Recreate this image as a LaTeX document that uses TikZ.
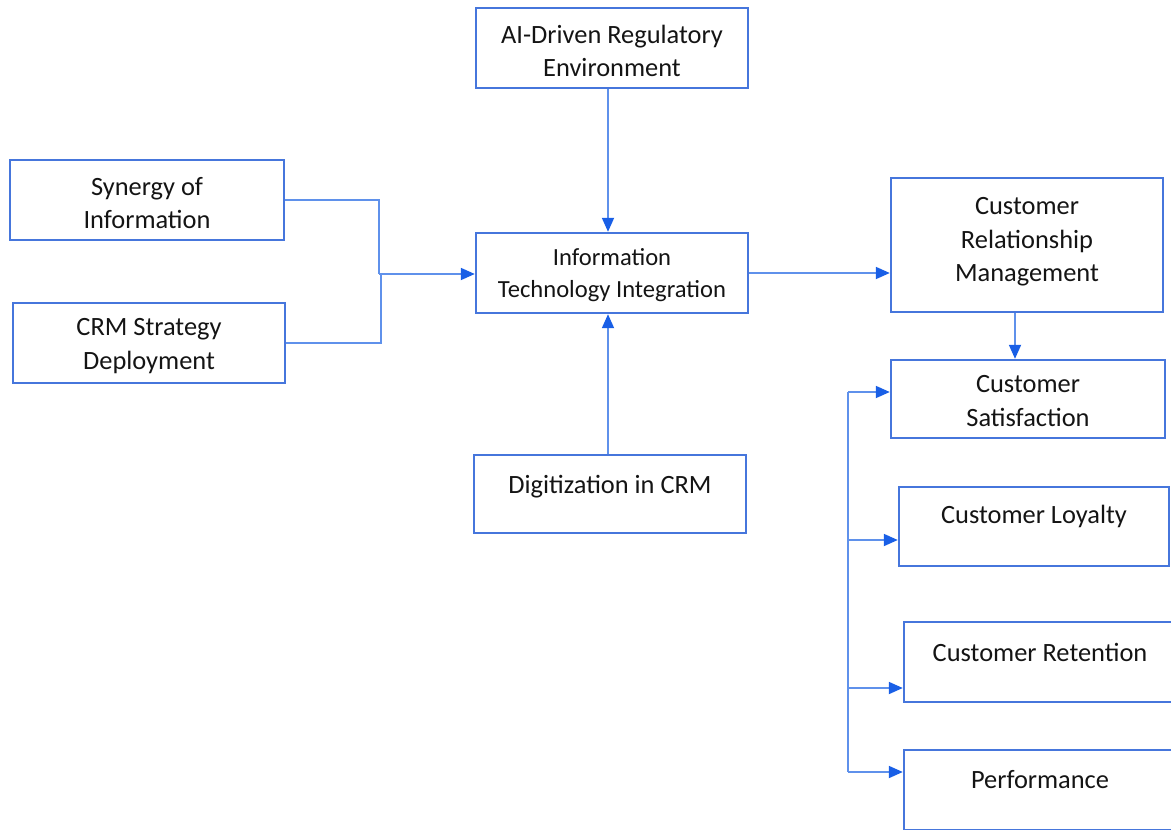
\documentclass[tikz,border=0pt]{standalone}
\usepackage{fontspec}
\setmainfont{Carlito}
\usetikzlibrary{arrows.meta}
\definecolor{boxblue}{RGB}{70,118,220}
\definecolor{lineblue}{RGB}{95,145,235}
\definecolor{tipblue}{RGB}{25,95,230}
\definecolor{txtcol}{RGB}{20,20,20}
\begin{document}
\begin{tikzpicture}[x=0.5pt,y=-0.5pt,
 box/.style={draw=boxblue, line width=1.2pt, rectangle, inner sep=0pt},
 lbl/.style={text=txtcol, align=center, font=\fontsize{13.2}{16.8}\selectfont, inner sep=0pt},
 lbls/.style={lbl, font=\fontsize{12.3}{16}\selectfont},
 conn/.style={draw=lineblue, line width=0.9pt},
 arr/.style={conn, -{Triangle[length=7pt,width=6pt,color=tipblue]}}]
\useasboundingbox (0,0) rectangle (1171,829);
\clip (0,0) rectangle (1171,829);

% boxes
\node[box, minimum width=136pt, minimum height=40pt] (ai) at (612,48) {};
\node[box, minimum width=137pt, minimum height=40pt] (syn) at (147,200) {};
\node[box, minimum width=136pt, minimum height=40pt] (crms) at (149,343) {};
\node[box, minimum width=136pt, minimum height=40pt] (it) at (612,273) {};
\node[box, minimum width=136pt, minimum height=39pt] (dig) at (610,494) {};
\node[box, minimum width=136pt, minimum height=67pt] (crm) at (1027,245) {};
\node[box, minimum width=137pt, minimum height=39pt] (sat) at (1028,399) {};
\node[box, minimum width=135pt, minimum height=39.5pt] (loy) at (1034,526.5) {};
\node[box, minimum width=136pt, minimum height=40pt] (ret) at (1040,662) {};
\node[box, minimum width=136pt, minimum height=40pt] (perf) at (1040,790) {};

% texts
\node[lbl] (aiT) at ([yshift=-1.5pt]ai.center) {AI-Driven Regulatory\\Environment};
\node[lbl] (synT) at ([yshift=-1.5pt]syn.center) {Synergy of\\Information};
\node[lbl] (crmsT) at ([yshift=-1.5pt]crms.center) {CRM Strategy\\Deployment};
\node[lbls] (itT) at ([yshift=-1pt]it.center) {Information\\Technology Integration};
\node[lbl] (digT) at ([yshift=3.5pt]dig.center) {Digitization in CRM};
\node[lbl] (crmT) at ([yshift=1.5pt]crm.center) {Customer\\Relationship\\Management};
\node[lbl] (satT) at ([yshift=-1pt]sat.center) {Customer\\Satisfaction};
\node[lbl] (loyT) at ([yshift=5pt]loy.center) {Customer Loyalty};
\node[lbl] (retT) at ([yshift=5pt]ret.center) {Customer Retention};
\node[lbl] (perfT) at ([yshift=5pt]perf.center) {Performance};

% left merge
\coordinate (jA) at (379,274);
\coordinate (jB) at (381,274);
\draw[conn] (syn.east) -| (jA);
\draw[conn] (crms.east) -| (jB);
\draw[arr] (jA) -- (jA -| it.west);

% vertical into IT
\draw[arr] ([xshift=-2pt]ai.south) -- ([xshift=-2pt]it.north);
\draw[arr] ([xshift=-2pt]it.south |- dig.north) -- ([xshift=-2pt]it.south);

% IT -> CRM
\draw[arr] (it.east) -- (it.east -| crm.west);
% CRM -> Satisfaction
\draw[arr] ([xshift=-6pt]crm.south) -- ([xshift=-6pt]crm.south |- sat.north);

% bus on the right
\coordinate (bTop) at (848,392);
\coordinate (bL) at (848,540);
\coordinate (bR) at (848,688);
\coordinate (bBot) at (848,772);
\draw[conn] (bTop) -- (bBot);
\draw[arr] (bTop) -- (bTop -| sat.west);
\draw[arr] (bL) -- (bL -| loy.west);
\draw[arr] (bR) -- (bR -| ret.west);
\draw[arr] (bBot) -- (bBot -| perf.west);
\end{tikzpicture}
\end{document}
